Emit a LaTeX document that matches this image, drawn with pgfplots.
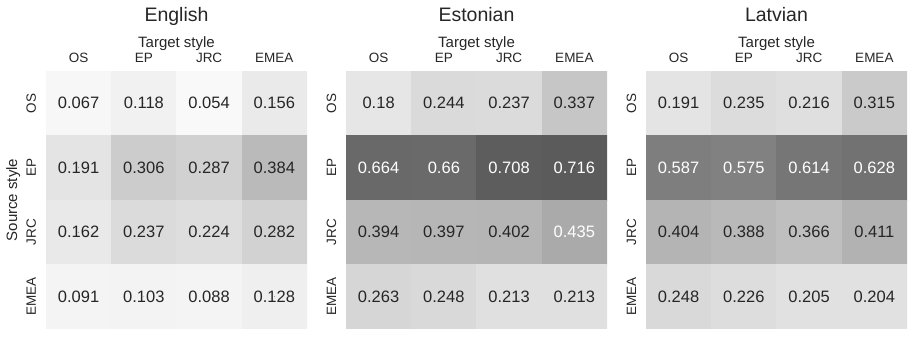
\documentclass[border=0pt]{standalone}
\usepackage{fontspec}
\setmainfont{Liberation Sans}
\usepackage{pgfplots}
\usepackage{pgfplotstable}
\pgfplotsset{compat=1.18}
\definecolor{txt}{RGB}{38,38,38}

% rows: source style, columns: target style (OS, EP, JRC, EMEA)
\pgfplotstableread{
x y z
0 0 0.067
1 0 0.118
2 0 0.054
3 0 0.156
0 1 0.191
1 1 0.306
2 1 0.287
3 1 0.384
0 2 0.162
1 2 0.237
2 2 0.224
3 2 0.282
0 3 0.091
1 3 0.103
2 3 0.088
3 3 0.128
}\english
\pgfplotstableread{
x y z
0 0 0.18
1 0 0.244
2 0 0.237
3 0 0.337
0 1 0.664
1 1 0.66
2 1 0.708
3 1 0.716
0 2 0.394
1 2 0.397
2 2 0.402
3 2 0.435
0 3 0.263
1 3 0.248
2 3 0.213
3 3 0.213
}\estonian
\pgfplotstableread{
x y z
0 0 0.191
1 0 0.235
2 0 0.216
3 0 0.315
0 1 0.587
1 1 0.575
2 1 0.614
3 1 0.628
0 2 0.404
1 2 0.388
2 2 0.366
3 2 0.411
0 3 0.248
1 3 0.226
2 3 0.205
3 3 0.204
}\latvian

\pgfplotsset{
  heat/.style={
    scale only axis, width=261pt, height=258pt,
    anchor=south west,
    xmin=-0.5, xmax=3.5, ymin=-0.5, ymax=3.5, y dir=reverse,
    colormap={greys}{rgb255=(255,255,255) rgb255=(240,240,240) rgb255=(217,217,217)
      rgb255=(189,189,189) rgb255=(150,150,150) rgb255=(115,115,115)
      rgb255=(82,82,82) rgb255=(37,37,37) rgb255=(0,0,0)},
    point meta min=0, point meta max=1,
    axis line style={draw=none}, major tick length=0pt,
    xtick={0,...,3}, ytick={0,...,3},
    xticklabels={OS,EP,JRC,EMEA}, yticklabels={OS,EP,JRC,EMEA},
    xticklabel pos=upper,
    xticklabel style={font=\fontsize{13.5}{14}\selectfont, anchor=base, yshift=9pt, color=txt},
    yticklabel style={font=\fontsize{13.5}{14}\selectfont, xshift=-10pt, rotate=90, anchor=base, color=txt},
    xlabel={Target style},
    xlabel style={font=\fontsize{15}{16}\selectfont, at={(axis description cs:0.5,1)},
      anchor=base, yshift=24pt, color=txt},
    title style={font=\fontsize{19.5}{20}\selectfont, at={(axis description cs:0.5,1)},
      anchor=base, yshift=44pt, color=txt},
    /pgf/number format/.cd, fixed, precision=3, assume math mode=true,
  },
  cells/.style={matrix plot*, mesh/cols=4, point meta=explicit},
  vals/.style={only marks, mark=*, mark size=0.01pt, mark options={draw=none, fill=none},
    point meta=explicit,
    nodes near coords,
    every node near coord/.append style={anchor=center, font=\fontsize{16.5}{18}\selectfont, color=#1},
  },
}

\begin{document}
\begin{tikzpicture}
\useasboundingbox (0,0) rectangle (914pt,339pt);
\begin{axis}[heat, at={(46pt,10pt)}, title={English},
  ylabel={Source style},
  ylabel style={font=\fontsize{15}{16}\selectfont, at={(axis description cs:-0.111,0.5)},
    anchor=base, color=txt}]
\addplot[cells] table[x=x, y=y, meta=z] {\english};
\addplot[vals=txt, restrict expr to domain={\thisrow{z}}{0:0.42}] table[x=x, y=y, meta=z] {\english};
\end{axis}
\begin{axis}[heat, at={(346pt,10pt)}, title={Estonian}]
\addplot[cells] table[x=x, y=y, meta=z] {\estonian};
\addplot[vals=txt, restrict expr to domain={\thisrow{z}}{0:0.42}] table[x=x, y=y, meta=z] {\estonian};
\addplot[vals=white, restrict expr to domain={\thisrow{z}}{0.42:1}] table[x=x, y=y, meta=z] {\estonian};
\end{axis}
\begin{axis}[heat, at={(646pt,10pt)}, title={Latvian}]
\addplot[cells] table[x=x, y=y, meta=z] {\latvian};
\addplot[vals=txt, restrict expr to domain={\thisrow{z}}{0:0.42}] table[x=x, y=y, meta=z] {\latvian};
\addplot[vals=white, restrict expr to domain={\thisrow{z}}{0.42:1}] table[x=x, y=y, meta=z] {\latvian};
\end{axis}
\end{tikzpicture}
\end{document}
